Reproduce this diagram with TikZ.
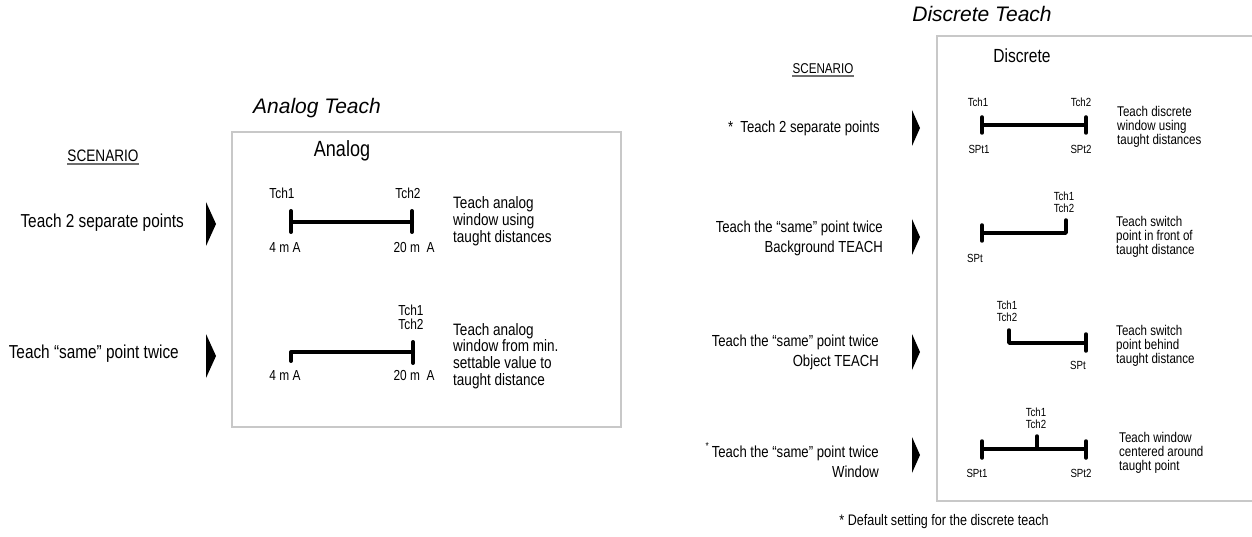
\documentclass[tikz,border=0pt]{standalone}
\usepackage{fontspec}
\setmainfont{Liberation Sans}[FakeStretch=0.82]
\newfontfamily\titlefont{Liberation Sans}
\usepackage{tikz}
\definecolor{framegray}{HTML}{C8C8C8}
\definecolor{rulegray}{HTML}{6E6E6E}
\tikzstyle{frame}=[draw=framegray, line width=2pt]
\tikzstyle{title}=[inner sep=0pt, font={\titlefont\itshape\fontsize{21}{24}\selectfont}]
\tikzstyle{bighead}=[inner sep=0pt, font={\fontsize{22}{24}\selectfont}]
\tikzstyle{smallhead}=[inner sep=0pt, font={\fontsize{19}{21}\selectfont}]
\tikzstyle{bigscen}=[inner sep=0pt, anchor=east, align=right, font={\fontsize{18.75}{20}\selectfont}]
\tikzstyle{smallscen}=[inner sep=0pt, anchor=east, align=right, font={\fontsize{16}{20}\selectfont}]
\tikzstyle{bigdesc}=[inner sep=0pt, anchor=west, align=left, font={\fontsize{16.5}{16.8}\selectfont}]
\tikzstyle{smalldesc}=[inner sep=0pt, anchor=west, align=left, font={\fontsize{14.1}{13.7}\selectfont}]
\tikzstyle{biglabel}=[inner sep=0pt, align=center, font={\fontsize{14.5}{14}\selectfont}]
\tikzstyle{smalllabel}=[inner sep=0pt, align=center, font={\fontsize{11.8}{11.8}\selectfont}]
\tikzstyle{scenhead}=[inner sep=0pt]
\tikzstyle{uline}=[draw=rulegray, line width=1.5pt]
\tikzstyle{bigbar}=[line width=4pt, line cap=round, line join=round]
\tikzstyle{smallbar}=[line width=3.5pt, line cap=round, line join=round]
\tikzstyle{pointer}=[fill=black]

\begin{document}
\begin{tikzpicture}[x=1pt, y=-1pt]

    \useasboundingbox (0,0) rectangle (1252,537);

    \node[title] (atitle) at (317,108) {Analog Teach};
    \draw[frame] (232,132) rectangle (621,427);
    \node[bighead] (ahead) at (342,151) {Analog};

    \node[scenhead, font={\fontsize{16.6}{18}\selectfont}] (ascen) at (103,156) {SCENARIO};
    \draw[uline] ([yshift=-2pt]ascen.south west) -- ([yshift=-2pt]ascen.south east);

    \node[bigscen] (as1) at (184,223) {Teach 2 separate points};
    \node[bigscen] (as2) at (179,354) {Teach “same” point twice};
    \fill[pointer] (206,202) -- (216,224) -- (206,246) -- cycle;
    \fill[pointer] (206,334) -- (216,356) -- (206,378) -- cycle;

    \draw[bigbar] (291,211) -- (291,232) (291,222) -- (412,222) (412,211) -- (412,232);
    \node[biglabel] (a1t1) at (282,193) {Tch1};
    \node[biglabel] (a1t2) at (408,193) {Tch2};
    \node[biglabel] (a1lo) at (285,248) {4 m A};
    \node[biglabel] (a1hi) at (414,248) {20 m~~A};
    \node[bigdesc] (a1d) at (453,221) {Teach analog\\window using\\taught distances};

    \draw[bigbar] (291,361) -- (291,352) -- (413,352) (413,342) -- (413,363);
    \node[biglabel] (a2t) at (411,317) {Tch1\\Tch2};
    \node[biglabel] (a2lo) at (285,376) {4 m A};
    \node[biglabel] (a2hi) at (414,376) {20 m~~A};
    \node[bigdesc] (a2d) at (453,356) {Teach analog\\window from min.\\settable value to\\taught distance};

    \node[title] (dtitle) at (982,14) {Discrete Teach};
    \draw[frame] (1258,36) -- (937,36) -- (937,501) -- (1258,501);
    \node[smallhead] (dhead) at (1022,56) {Discrete};

    \node[scenhead, font={\fontsize{14.2}{16}\selectfont}] (dscen) at (823,69) {SCENARIO};
    \draw[uline] ([yshift=-2pt]dscen.south west) -- ([yshift=-2pt]dscen.south east);

    \node[smallscen] (ds1) at (880,128) {*\ \ Teach 2 separate points};
    \node[smallscen] (ds2) at (883,238) {Teach the “same” point twice\\Background TEACH};
    \node[smallscen] (ds3) at (879,352) {Teach the “same” point twice\\Object TEACH};
    \node[smallscen] (ds4) at (879,460) {\raisebox{8pt}{\fontsize{10}{10}\selectfont *}\hspace{3pt}Teach the “same” point twice\\Window\ };
    \fill[pointer] (912,110) -- (920,128) -- (912,146) -- cycle;
    \fill[pointer] (912,219) -- (920,237) -- (912,255) -- cycle;
    \fill[pointer] (912,334) -- (920,352) -- (912,370) -- cycle;
    \fill[pointer] (912,437) -- (920,455) -- (912,473) -- cycle;

    \draw[smallbar] (982,117) -- (982,133) (982,125) -- (1086,125) (1086,117) -- (1086,133);
    \node[smalllabel] (d1t1) at (978,102) {Tch1};
    \node[smalllabel] (d1t2) at (1081,102) {Tch2};
    \node[smalllabel] (d1s1) at (979,149) {SPt1};
    \node[smalllabel] (d1s2) at (1081,149) {SPt2};
    \node[smalldesc] (d1d) at (1117,127) {Teach discrete\\window using\\taught distances};

    \draw[smallbar] (982,225) -- (982,241) (982,233) -- (1066,233) -- (1066,220);
    \node[smalllabel] (d2t) at (1064,202) {Tch1\\Tch2};
    \node[smalllabel] (d2s) at (975,258) {SPt};
    \node[smalldesc] (d2d) at (1116,237) {Teach switch\\point in front of\\taught distance};

    \draw[smallbar] (1009,330) -- (1009,343) -- (1086,343) (1086,334) -- (1086,351);
    \node[smalllabel] (d3t) at (1007,311.5) {Tch1\\Tch2};
    \node[smalllabel] (d3s) at (1078,365) {SPt};
    \node[smalldesc] (d3d) at (1116,346) {Teach switch\\point behind\\taught distance};

    \draw[smallbar] (982,441) -- (982,458) (982,449) -- (1086,449) (1086,441) -- (1086,458) (1037,436) -- (1037,449);
    \node[smalllabel] (d4t) at (1036,418) {Tch1\\Tch2};
    \node[smalllabel] (d4s1) at (977,473) {SPt1};
    \node[smalllabel] (d4s2) at (1081,473) {SPt2};
    \node[smalldesc] (d4d) at (1119,453) {Teach window\\centered around\\taught point};

    \node[inner sep=0pt, font={\fontsize{15.3}{16}\selectfont}] (dnote) at (944,522) {* Default setting for the discrete teach};

\end{tikzpicture}
\end{document}
